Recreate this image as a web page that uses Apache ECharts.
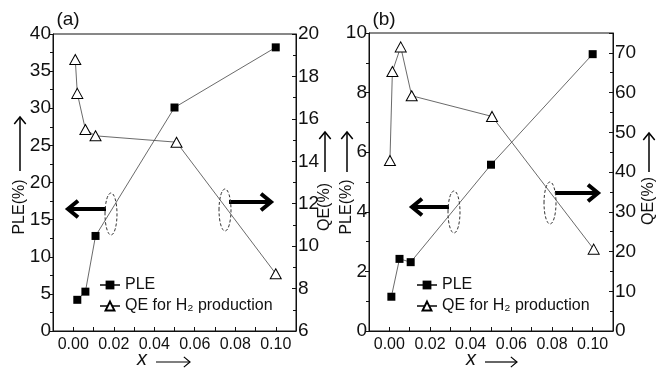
<!DOCTYPE html>
<html>
<head>
<meta charset="utf-8">
<script src="https://cdn.jsdelivr.net/npm/echarts@6/dist/echarts.min.js"></script>
<style>
  html, body { margin: 0; padding: 0; background: #fff; }
  #chart { width: 658px; height: 372px; }
</style>
</head>
<body>
<div id="chart"></div>
<script>
// panel (a)
const aPleX = [0.002, 0.006, 0.011, 0.05, 0.1]
const aPleY = [4.2, 5.3, 12.8, 30.1, 38.2]
const aQeX = [0.001, 0.002, 0.006, 0.011, 0.051, 0.1]
const aQeY = [18.8, 17.2, 15.5, 15.2, 14.9, 8.7]
// panel (b)
const bPleX = [0.001, 0.005, 0.0105, 0.05, 0.1]
const bPleY = [1.15, 2.42, 2.31, 5.58, 9.29]
const bQeX = [0.0003, 0.0015, 0.0056, 0.011, 0.0505, 0.1005]
const bQeY = [42.9, 65.3, 71.5, 59.2, 54.0, 20.6]

const legendNames = ['PLE', 'QE for H\u2082 production']

const FONT = '"Liberation Sans", Arial, sans-serif'
const INK = '#111'

const chart = echarts.init(document.getElementById('chart'))

function pairs (xs, ys) {
  return xs.map((x, i) => [x, ys[i]])
}

function xAxisOf (gi) {
  return {
    type: 'value',
    gridIndex: gi,
    min: -0.01,
    max: 0.11,
    interval: 0.01,
    axisLine: { show: true, onZero: false, lineStyle: { color: INK, width: 1 } },
    axisTick: { show: true, inside: true, length: 4, lineStyle: { color: INK } },
    splitLine: { show: false },
    axisLabel: {
      color: INK,
      fontFamily: FONT,
      fontSize: 16,
      margin: 6,
      formatter: function (v) {
        const k = Math.round(v * 100)
        if (k < 0 || k > 10 || k % 2 !== 0) return ''
        return (k / 100).toFixed(2)
      }
    }
  }
}

function yAxisOf (gi, pos, min, max, interval) {
  return {
    type: 'value',
    gridIndex: gi,
    position: pos,
    min: min,
    max: max,
    interval: interval,
    axisLine: { show: true, onZero: false, lineStyle: { color: INK, width: 1 } },
    axisTick: { show: true, inside: pos === 'right', length: 4, lineStyle: { color: INK } },
    minorTick: { show: true, splitNumber: 2, length: 3, lineStyle: { color: INK } },
    splitLine: { show: false },
    axisLabel: {
      color: INK,
      fontFamily: FONT,
      fontSize: 19,
      margin: 2,
      showMaxLabel: max % interval === 0
    }
  }
}

function pleSeries (name, xi, yi, data) {
  return {
    name: name,
    type: 'line',
    xAxisIndex: xi,
    yAxisIndex: yi,
    data: data,
    symbol: 'rect',
    symbolSize: 8,
    lineStyle: { color: '#444', width: 0.8 },
    itemStyle: { color: '#000' }
  }
}

function qeSeries (name, xi, yi, data) {
  return {
    name: name,
    type: 'line',
    xAxisIndex: xi,
    yAxisIndex: yi,
    data: data,
    symbol: 'triangle',
    symbolSize: [11, 10],
    showAllSymbol: true,
    lineStyle: { color: '#444', width: 0.8 },
    itemStyle: { color: '#fff', borderColor: '#000', borderWidth: 1 },
    z: 3
  }
}

// arrow: shaft plus open head
function arrow (x1, y1, x2, y2, w, head) {
  const ang = Math.atan2(y2 - y1, x2 - x1)
  const a1 = ang + Math.PI * 0.78
  const a2 = ang - Math.PI * 0.78
  return [
    { type: 'line', shape: { x1: x1, y1: y1, x2: x2, y2: y2 }, style: { stroke: '#000', lineWidth: w } },
    {
      type: 'polyline',
      shape: { points: [
        [x2 + head * Math.cos(a1), y2 + head * Math.sin(a1)],
        [x2, y2],
        [x2 + head * Math.cos(a2), y2 + head * Math.sin(a2)]
      ] },
      style: { stroke: '#000', lineWidth: w, fill: null, lineJoin: 'miter' }
    }
  ]
}

function ellipse (cx, cy) {
  return {
    type: 'ellipse',
    shape: { cx: cx, cy: cy, rx: 6, ry: 21 },
    style: { stroke: '#333', lineWidth: 1, lineDash: [3, 2], fill: null }
  }
}

function vtext (x, y, t) {
  return {
    type: 'text',
    x: x,
    y: y,
    rotation: Math.PI / 2,
    style: { text: t, fill: INK, font: '16px ' + FONT, textAlign: 'center', textVerticalAlign: 'middle' }
  }
}

function htext (x, y, t, size, italic) {
  return {
    type: 'text',
    x: x,
    y: y,
    style: {
      text: t,
      fill: INK,
      font: (italic ? 'italic ' : '') + size + 'px ' + FONT,
      textAlign: 'center',
      textVerticalAlign: 'middle'
    }
  }
}

const graphics = [].concat(
  // panel labels
  htext(68, 20, '(a)', 19),
  htext(384, 20, '(b)', 19),
  // axis titles
  vtext(20, 207, 'PLE(%)'),
  arrow(20, 171, 20, 117, 1.5, 9),
  vtext(325, 207, 'QE(%)'),
  arrow(325, 172, 325, 132, 1.5, 9),
  vtext(347, 207, 'PLE(%)'),
  arrow(347, 172, 347, 132, 1.5, 9),
  vtext(649, 201, 'QE(%)'),
  arrow(649, 172, 649, 133, 1.5, 9),
  // x titles
  htext(142, 359, 'x', 20, true),
  arrow(156, 362, 190, 362, 1.2, 8),
  htext(471, 359, 'x', 20, true),
  arrow(485, 362, 517, 362, 1.2, 8),
  // pointers panel a
  arrow(106, 209, 68, 209, 4, 13),
  arrow(229, 202, 271, 202, 4, 13),
  ellipse(111, 214),
  ellipse(225, 210),
  // pointers panel b
  arrow(449, 207, 412, 207, 4, 13),
  arrow(555, 193, 598, 193, 4, 13),
  ellipse(454, 212),
  ellipse(550, 203)
)

const option = {
  backgroundColor: '#fff',
  animation: false,
  grid: [
    { left: 53, top: 34, width: 243, height: 297, show: true, borderColor: INK, borderWidth: 1, outerBoundsMode: 'none' },
    { left: 369, top: 33, width: 244, height: 298, show: true, borderColor: INK, borderWidth: 1, outerBoundsMode: 'none' }
  ],
  legend: [
    {
      data: legendNames,
      left: 94,
      top: 272,
      orient: 'vertical',
      itemGap: 5,
      itemWidth: 20,
      itemHeight: 11,
      textStyle: { color: INK, fontFamily: FONT, fontSize: 16 }
    },
    {
      data: legendNames,
      left: 411,
      top: 272,
      orient: 'vertical',
      itemGap: 5,
      itemWidth: 20,
      itemHeight: 11,
      textStyle: { color: INK, fontFamily: FONT, fontSize: 16 }
    }
  ],
  xAxis: [xAxisOf(0), xAxisOf(1)],
  yAxis: [
    yAxisOf(0, 'left', 0, 40, 5),
    yAxisOf(0, 'right', 6, 20, 2),
    yAxisOf(1, 'left', 0, 10, 2),
    yAxisOf(1, 'right', 0, 75, 10)
  ],
  series: [
    pleSeries(legendNames[0], 0, 0, pairs(aPleX, aPleY)),
    qeSeries(legendNames[1], 0, 1, pairs(aQeX, aQeY)),
    pleSeries(legendNames[0], 1, 2, pairs(bPleX, bPleY)),
    qeSeries(legendNames[1], 1, 3, pairs(bQeX, bQeY))
  ],
  graphic: graphics
}

chart.setOption(option)
</script>
</body>
</html>
